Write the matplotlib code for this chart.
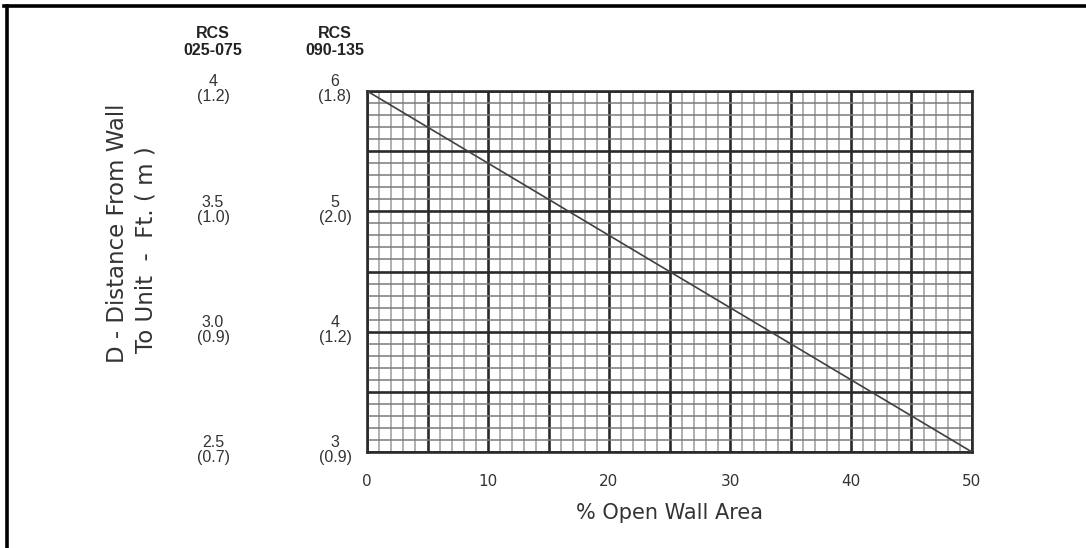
import matplotlib
matplotlib.use("Agg")
import matplotlib.pyplot as plt
import numpy as np
from matplotlib.ticker import MultipleLocator, FixedLocator, FixedFormatter
import matplotlib.transforms as mtransforms

# ---- data ----
pct_open_wall = [0, 50]
distance_090_135 = [6, 3]          # ft, RCS 090-135 scale
ytick_positions = [6, 5, 4, 3]
labels_025_075 = ["4\n(1.2)", "3.5\n(1.0)", "3.0\n(0.9)", "2.5\n(0.7)"]
labels_090_135 = ["6\n(1.8)", "5\n(2.0)", "4\n(1.2)", "3\n(0.9)"]
xtick_values = [0, 10, 20, 30, 40, 50]
header_025_075 = "RCS\n025-075"
header_090_135 = "RCS\n090-135"

W, H = 1086, 548
fig = plt.figure(figsize=(W / 100, H / 100), dpi=100)
fig.patch.set_facecolor("white")

# outer frame lines (top and left)
fig.add_artist(plt.Line2D([4 / W, 1], [1 - 6 / H, 1 - 6 / H], color="black", lw=2.6,
                          transform=fig.transFigure))
fig.add_artist(plt.Line2D([6.5 / W, 6.5 / W], [0, 1 - 6 / H], color="black", lw=2.6,
                          transform=fig.transFigure))

x0, x1 = 367 / W, 972 / W
y0, y1 = 1 - 452 / H, 1 - 91 / H
ax = fig.add_axes([x0, y0, x1 - x0, y1 - y0])
ax.set_xlim(0, 50)
ax.set_ylim(3, 6)

major_x = list(range(0, 51, 5))
ax.xaxis.set_major_locator(FixedLocator(major_x))
ax.xaxis.set_minor_locator(FixedLocator(list(range(0, 51))))
ax.yaxis.set_major_locator(FixedLocator([3 + 0.5 * i for i in range(7)]))
ax.yaxis.set_minor_locator(FixedLocator([3 + 0.1 * i for i in range(31)]))

ax.grid(which="minor", axis="x", color="#b0b0b0", lw=1.4)
ax.grid(which="minor", axis="y", color="#7a7a7a", lw=1.1)
ax.grid(which="major", color="#2a2a2a", lw=1.9)
ax.set_axisbelow(True)
for s in ax.spines.values():
    s.set_color("#2a2a2a")
    s.set_linewidth(1.9)

ax.plot(pct_open_wall, distance_090_135, color="#404040", lw=1.2, zorder=3)

# x tick labels only at multiples of 10
ax.xaxis.set_major_formatter(FixedFormatter([str(v) if v in xtick_values else "" for v in major_x]))
ax.tick_params(axis="x", which="both", length=0, pad=15.5, labelsize=11, labelcolor="#333333")
ax.tick_params(axis="y", which="both", length=0, labelleft=False)

fig.text(((x0 + x1) / 2), 1 - 513 / H, "% Open Wall Area", ha="center", va="center",
         fontsize=15, color="#333333")

# y label columns
trans = mtransforms.blended_transform_factory(fig.transFigure, ax.transData)
for yv, lab_a, lab_b in zip(ytick_positions, labels_025_075, labels_090_135):
    ax.text(213 / W, yv + 0.015, lab_a, transform=trans, ha="center", va="center",
            fontsize=11.5, family="Liberation Sans", color="#333333", linespacing=1.0,
            clip_on=False)
    ax.text(335 / W, yv + 0.015, lab_b, transform=trans, ha="center", va="center",
            fontsize=11.5, family="Liberation Sans", color="#333333", linespacing=1.0,
            clip_on=False)

fig.text(213 / W, 1 - 42 / H, header_025_075, ha="center", va="center", fontsize=11.5,
         fontweight="bold", family="Liberation Sans", color="#222222", linespacing=1.1)
fig.text(335 / W, 1 - 42 / H, header_090_135, ha="center", va="center", fontsize=11.5,
         fontweight="bold", family="Liberation Sans", color="#222222", linespacing=1.1)

fig.text(117 / W, 1 - 233 / H, "D - Distance From Wall", rotation=90, ha="center",
         va="center", fontsize=16.5, color="#333333")
fig.text(146 / W, 1 - 250 / H, "To Unit  -  Ft. ( m )", rotation=90, ha="center",
         va="center", fontsize=16.5, color="#333333")

fig.savefig("out.png", dpi=100, facecolor="white")
